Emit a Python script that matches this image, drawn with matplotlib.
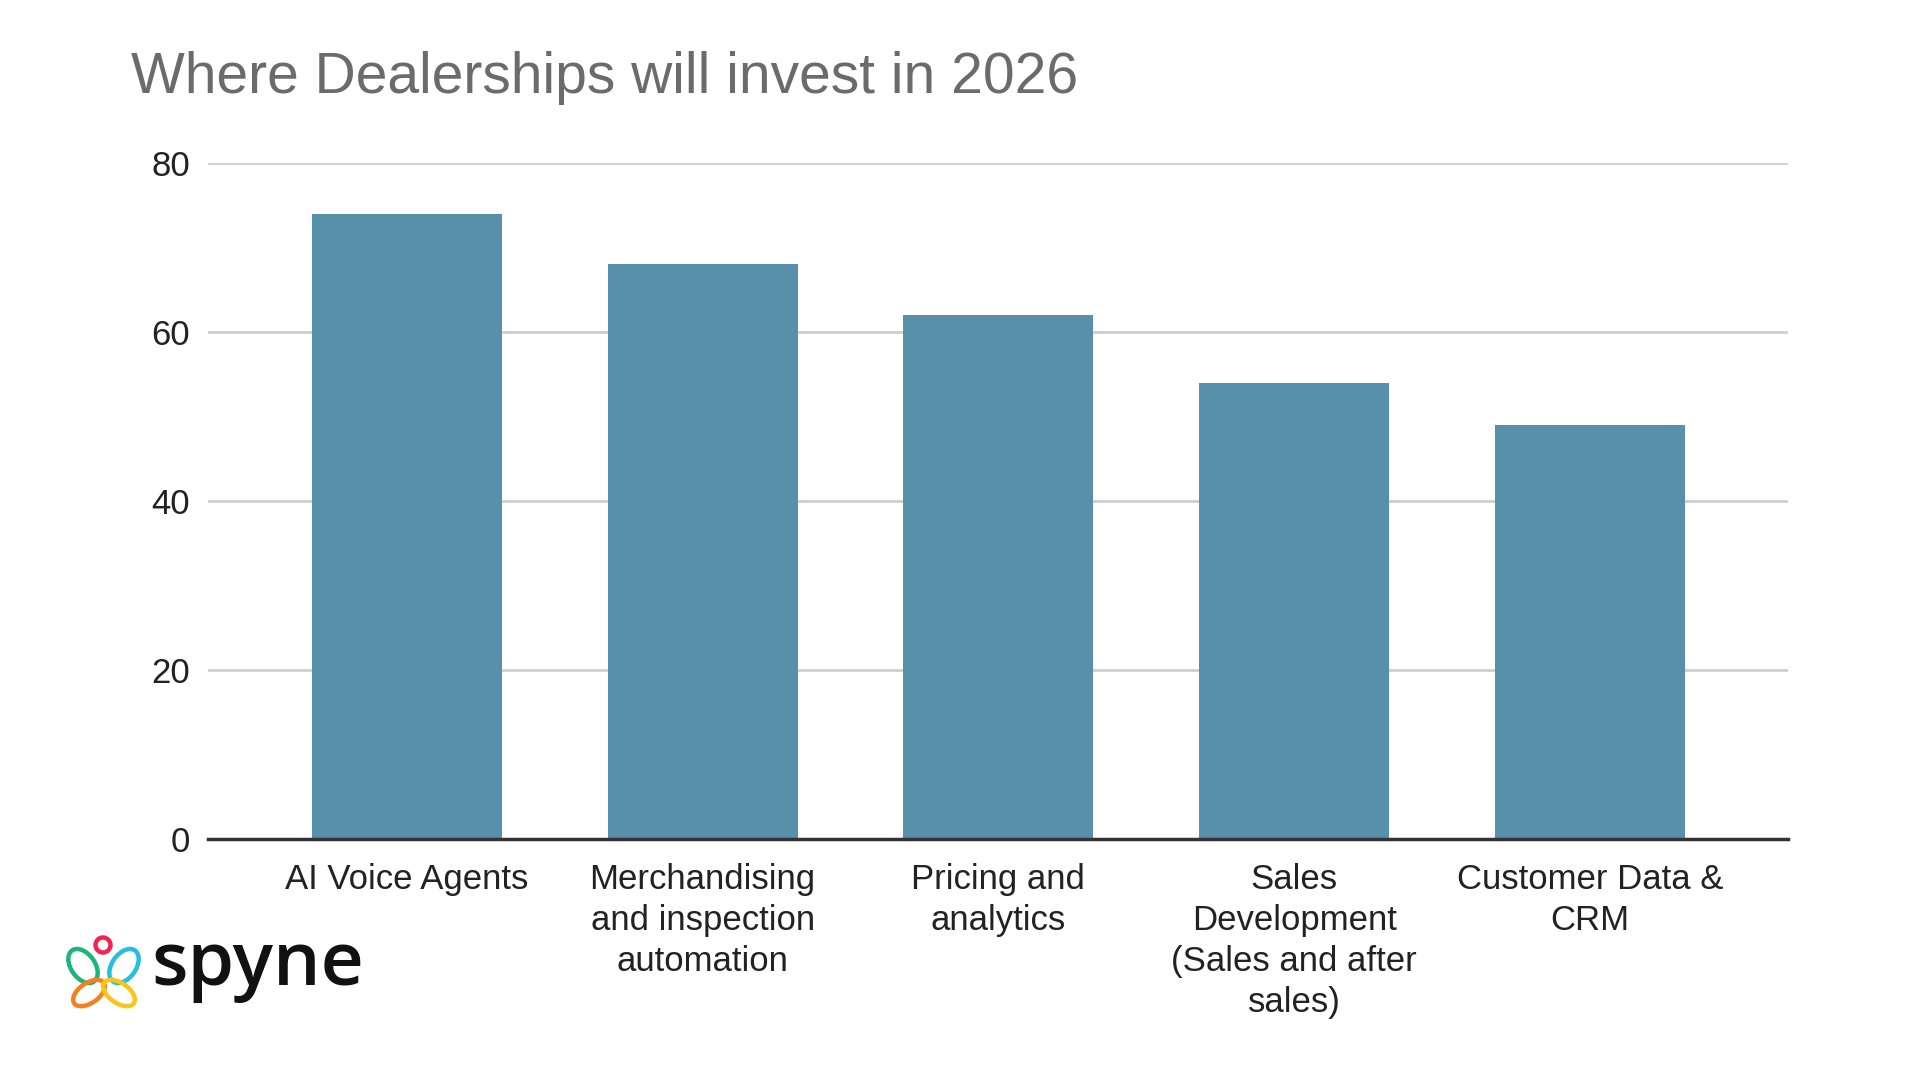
import matplotlib
matplotlib.use("Agg")
import matplotlib.pyplot as plt
from matplotlib.patches import Circle, Ellipse

# データ
categories = ["AI Voice Agents",
              "Merchandising\nand inspection\nautomation",
              "Pricing and\nanalytics",
              "Sales\nDevelopment\n(Sales and after\nsales)",
              "Customer Data &\nCRM"]
values = [74, 68, 62, 54, 49]
yticks = [0, 20, 40, 60, 80]
title = "Where Dealerships will invest in 2026"

plt.rcParams['font.family'] = ['Liberation Sans', 'DejaVu Sans']

fig = plt.figure(figsize=(19.2, 10.8), dpi=100)
fig.patch.set_facecolor("white")
ax = fig.add_axes([0.1083, 0.2231, 0.8229, 0.6259])

x = range(len(categories))
ax.bar(x, values, width=0.643, color="#588fab", zorder=3)

ax.set_xlim(-0.673, len(categories) - 1 + 0.67)
ax.set_ylim(0, 80)
ax.set_yticks(yticks)
ax.set_xticks(list(x))
ax.set_xticklabels(categories, fontsize=25, linespacing=1.31, color="#222222")
ax.tick_params(axis="y", length=0, pad=13, labelsize=25, labelcolor="#222222")
ax.tick_params(axis="x", length=0, pad=17)
ax.grid(axis="y", color="#cfcfcf", lw=2, zorder=0)
for s in ["top", "right", "left"]:
    ax.spines[s].set_visible(False)
ax.spines["bottom"].set_color("#333333")
ax.spines["bottom"].set_linewidth(2.5)
ax.spines["bottom"].set_zorder(4)

# タイトル
fig.text(131 / 1920, 1 - 93 / 1080, title, fontsize=41, color="#6b6b6b",
         ha="left", va="baseline")

# ロゴ (ピクセル座標のオーバーレイ)
lg = fig.add_axes([0, 0, 1, 1], zorder=5)
lg.set_xlim(0, 1920)
lg.set_ylim(1080, 0)
lg.axis("off")
lw = 3.2
lg.add_patch(Circle((103, 945), 7.5, fill=False, ec="#f0264f", lw=lw))
lg.add_patch(Ellipse((83, 966), 38, 24, angle=55, fill=False, ec="#1fb57a", lw=lw))
lg.add_patch(Ellipse((124, 966), 38, 24, angle=-55, fill=False, ec="#27bfe0", lw=lw))
lg.add_patch(Ellipse((89, 993), 36, 20, angle=-35, fill=False, ec="#f7801e", lw=lw))
lg.add_patch(Ellipse((119, 993), 36, 20, angle=35, fill=False, ec="#f9c51b", lw=lw))
lg.text(151, 985, "spyne", fontsize=54, fontfamily="Open Sans", fontweight="semibold",
        color="#111111", ha="left", va="baseline")

plt.savefig("out.png", dpi=100)
plt.close()
